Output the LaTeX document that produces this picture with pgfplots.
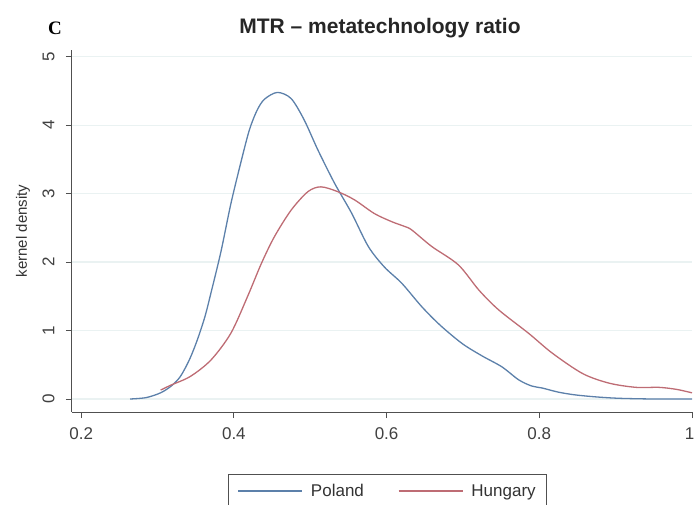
\documentclass[border=0pt]{standalone}
\usepackage{pgfplots}
\pgfplotsset{compat=1.18}
\usepackage{fontspec}
\setmainfont{Liberation Sans}
\newfontfamily\serifC{Liberation Serif}
\definecolor{polblue}{RGB}{92,128,170}
\definecolor{hunred}{RGB}{190,108,116}
\definecolor{gridc}{RGB}{234,242,242}
\definecolor{axc}{RGB}{80,80,80}
\begin{document}
\begin{tikzpicture}
\useasboundingbox (-72pt,-93pt) rectangle (623pt,412pt);
\begin{axis}[
  at={(0pt,0pt)}, anchor=south west, scale only axis,
  width=620pt, height=362pt,
  xmin=0.188, xmax=1.0, ymin=-0.19, ymax=5.1,
  axis x line*=bottom, axis y line*=left,
  axis line style={axc, line width=1pt, -},
  xtick={0.2,0.4,0.6,0.8,1}, xticklabels={0.2,0.4,0.6,0.8,{\kern-5pt1}},
  ytick={0,1,2,3,4,5},
  tick align=outside, major tick length=6pt,
  tick style={axc, line width=0.8pt},
  ymajorgrids, major grid style={gridc, line width=1.3pt},
  /pgf/number format/assume math mode=true,
  xticklabel shift=6pt, yticklabel shift=8pt,
  xticklabel style={font=\fontsize{17}{17}\selectfont, text=black!75},
  yticklabel style={rotate=90, anchor=south, font=\fontsize{17}{17}\selectfont, text=black!75},
  ylabel={kernel density},
  ylabel style={at={(axis description cs:-0.079,0.5)}, anchor=center, font=\fontsize{15}{15}\selectfont, text=black!80},
  legend columns=2,
  legend style={at={(0.509,-0.174)}, anchor=north, draw=none, name=leg,
    font=\fontsize{17}{17}\selectfont, text=black!80,
    inner xsep=9pt, inner ysep=7pt,
    /tikz/every odd column/.append style={column sep=6pt},
    /tikz/every even column/.append style={column sep=32pt}},
  legend image code/.code={\draw[#1, line width=1.5pt] (0pt,0pt) -- (64pt,0pt);},
]
\addplot[polblue, line width=1.3pt, smooth, tension=0.5] table {
x y
0.264 0.00
0.285 0.02
0.304 0.09
0.318 0.19
0.330 0.33
0.342 0.58
0.352 0.86
0.362 1.20
0.370 1.55
0.383 2.15
0.396 2.85
0.409 3.45
0.420 3.92
0.430 4.21
0.440 4.38
0.457 4.48
0.475 4.39
0.492 4.08
0.510 3.64
0.532 3.15
0.554 2.72
0.576 2.23
0.597 1.93
0.620 1.69
0.646 1.35
0.670 1.08
0.699 0.81
0.725 0.63
0.751 0.47
0.773 0.28
0.790 0.19
0.804 0.16
0.825 0.10
0.847 0.06
0.875 0.03
0.905 0.01
0.950 0.00
1.000 0.00
};
\addlegendentry{Poland}
\addplot[hunred, line width=1.3pt, smooth, tension=0.5] table {
x y
0.304 0.13
0.317 0.20
0.343 0.33
0.370 0.57
0.396 0.96
0.418 1.50
0.436 1.98
0.453 2.37
0.475 2.76
0.497 3.03
0.514 3.10
0.536 3.03
0.558 2.91
0.584 2.71
0.607 2.59
0.624 2.52
0.633 2.47
0.659 2.23
0.694 1.96
0.721 1.59
0.747 1.30
0.786 0.96
0.817 0.67
0.857 0.37
0.892 0.23
0.927 0.17
0.957 0.17
0.980 0.14
1.000 0.09
};
\addlegendentry{Hungary}
\end{axis}
\draw[axc, line width=1pt] (leg.south west) rectangle (leg.north east);
\node[font=\fontsize{21}{21}\selectfont\bfseries, text=black!85] at (308pt,384pt) {MTR -- metatechnology ratio};
\node[font=\serifC\fontsize{19}{19}\selectfont\bfseries] at (-17pt,384pt) {C};
\end{tikzpicture}
\end{document}
